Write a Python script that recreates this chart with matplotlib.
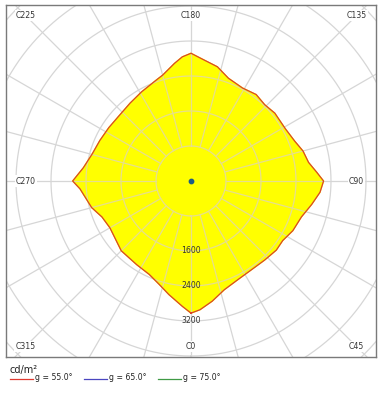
import numpy as np
import matplotlib
matplotlib.use("Agg")
import matplotlib.pyplot as plt
from matplotlib.lines import Line2D

# luminance at gamma = 55 deg (C plane in degrees, cd/m2)
c_planes = [0, 4, 10, 17, 25, 34, 43, 51, 57, 64, 72, 79, 85, 90,
            94, 99, 105, 111, 119, 129, 136, 143, 151, 160, 167, 176, 180,
            184, 188, 195, 199, 209, 218, 228, 237, 246, 255, 263, 270,
            274, 285, 292, 300, 315, 327, 336, 343, 349, 356, 360]
lum_g55 = [3020, 2950, 2790, 2600, 2500, 2455, 2470, 2510, 2500, 2590, 2655, 2810, 2960, 3030,
           2880, 2720, 2650, 2540, 2465, 2465, 2425, 2475, 2430, 2500, 2680, 2825, 2920,
           2845, 2715, 2505, 2440, 2330, 2260, 2220, 2240, 2280, 2345, 2480, 2705,
           2545, 2350, 2195, 2140, 2255, 2280, 2340, 2475, 2645, 2870, 3020]

ring_values = [800, 1600, 2400, 3200, 4000, 4800, 5600, 6400]
ring_labels = [1600, 2400, 3200]
c_labels = [0, 45, 90, 135, 180, 225, 270, 315]
legend_items = ["g = 55.0°", "g = 65.0°", "g = 75.0°"]
legend_colors = ["#e03a30", "#4a46c0", "#3f9a45"]


def to_xy(c_deg, r):
    c = np.radians(np.asarray(c_deg, dtype=float))
    r = np.asarray(r, dtype=float)
    return r * np.sin(c), -r * np.cos(c)


fig = plt.figure(figsize=(3.83, 3.93), dpi=100)
ax = fig.add_axes([6 / 383, 36 / 393, 370 / 383, 352 / 393])
ax.set_xlim(-4229, 4229)
ax.set_ylim(-4023, 4023)
ax.set_aspect("equal")
ax.set_xticks([])
ax.set_yticks([])
for sp in ax.spines.values():
    sp.set_color("#7a7a7a")
    sp.set_linewidth(1.0)


def draw_grid(color, clip=None):
    t = np.linspace(0, 360, 361)
    artists = []
    for rv in ring_values:
        x, y = to_xy(t, np.full_like(t, rv))
        artists += ax.plot(x, y, color=color, lw=0.9, zorder=2 if clip is None else 4)
    for c in range(0, 360, 15):
        x, y = to_xy([c, c], [ring_values[0], 9000])
        artists += ax.plot(x, y, color=color, lw=0.9, zorder=2 if clip is None else 4)
    if clip is not None:
        for a in artists:
            a.set_clip_path(clip)


draw_grid("#d6d6d6")

# yellow luminance area
px, py = to_xy(c_planes, lum_g55)
patch = ax.fill(px, py, color="#ffff00", zorder=3)[0]
draw_grid("#e6df8e", clip=patch)
ax.plot(px, py, color="#d8432a", lw=0.9, zorder=5)

# centre point (higher gamma curves collapse here)
ax.scatter([0], [0], s=10, color="#1e5c86", zorder=6)

# ring labels along C0
for rv in ring_labels:
    x, y = to_xy(0, rv)
    ax.text(x, y, str(rv), ha="center", va="center", fontsize=5.6,
            color="#333333", zorder=7)

# C-plane labels near the frame
for c in c_labels:
    dx, dy = to_xy(c, 1.0)
    m = max(abs(dx), abs(dy))
    dx, dy = dx / m, dy / m
    ax.text(dx * 3780, dy * 3780, f"C{c}", ha="center", va="center", fontsize=5.6,
            color="#333333", zorder=7,
            bbox=dict(facecolor="white", edgecolor="none", pad=0.8))

# legend below the frame
fig.text(10 / 383, 1 - 370 / 393, "cd/m²", fontsize=7, color="#222222",
         ha="left", va="center")
x0s = [10, 84, 158]
for x0, lab, col in zip(x0s, legend_items, legend_colors):
    yy = 1 - 378.5 / 393
    fig.add_artist(Line2D([x0 / 383, (x0 + 23) / 383], [yy, yy], color=col, lw=0.9))
    fig.text((x0 + 25) / 383, yy + 0.002, lab, fontsize=5.6, color="#222222",
             ha="left", va="center")

fig.savefig("out.png", dpi=100, facecolor="white")
